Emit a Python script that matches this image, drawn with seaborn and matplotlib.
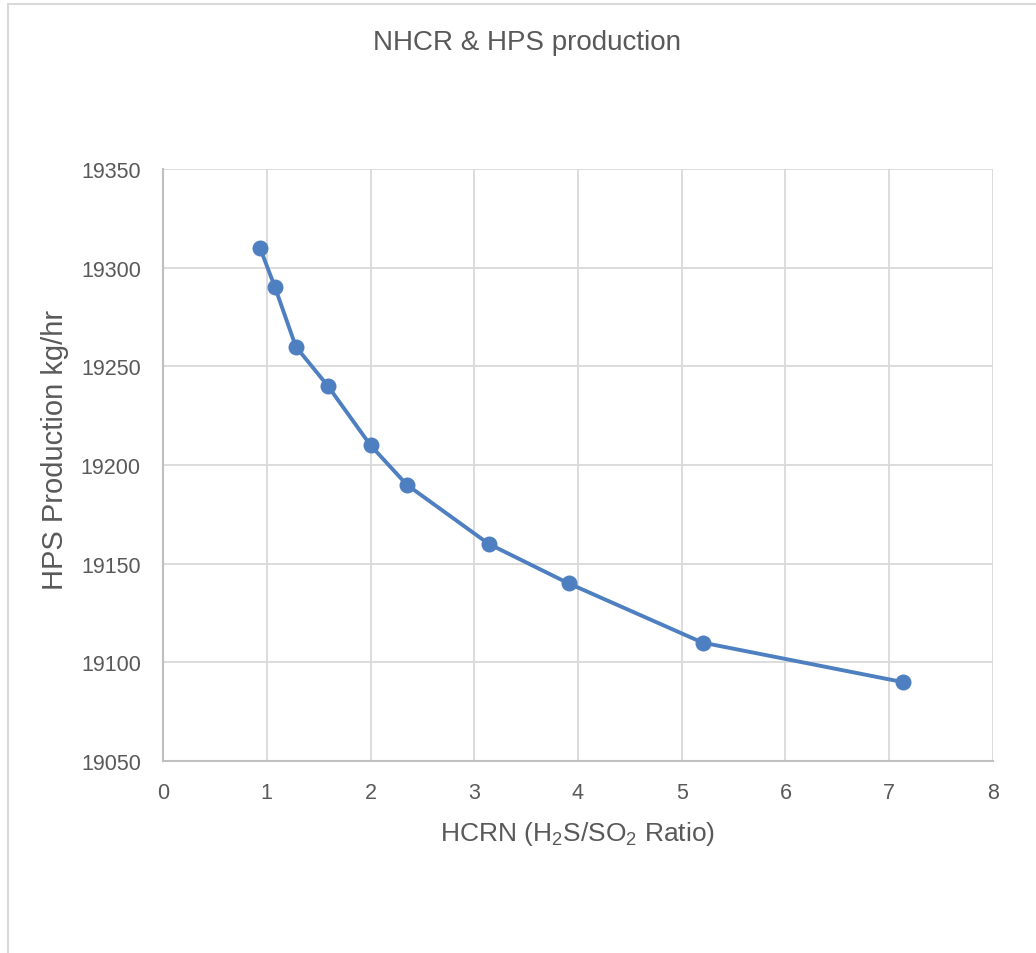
import matplotlib
matplotlib.use("Agg")
import matplotlib.pyplot as plt
from matplotlib.lines import Line2D
import seaborn as sns
import pandas as pd

# values
hcrn_ratio = [0.935, 1.08, 1.28, 1.59, 2.0, 2.35, 3.14, 3.91, 5.2, 7.13]
hps_production = [19310, 19290, 19260, 19240, 19210, 19190, 19160, 19140, 19110, 19090]
x_ticks = [0, 1, 2, 3, 4, 5, 6, 7, 8]
y_ticks = [19050, 19100, 19150, 19200, 19250, 19300, 19350]

df = pd.DataFrame({"hcrn": hcrn_ratio, "hps": hps_production})

sns.set_style("whitegrid")
plt.rcParams["font.family"] = ["Liberation Sans", "DejaVu Sans"]
plt.rcParams["mathtext.fontset"] = "custom"
plt.rcParams["mathtext.rm"] = "Liberation Sans"

text_color = "#595959"
blue = "#4E7FC0"

fig = plt.figure(figsize=(10.36, 9.54), dpi=100)
ax = fig.add_axes([163 / 1036, 1 - 762 / 954, (993 - 163) / 1036, (762 - 170) / 954])

sns.lineplot(
    data=df,
    x="hcrn",
    y="hps",
    ax=ax,
    color=blue,
    linewidth=2.8,
    marker="o",
    markersize=11.5,
    markeredgewidth=0,
    markerfacecolor=blue,
)

ax.set_xlim(0, 8)
ax.set_ylim(19050, 19350)
ax.set_xticks(x_ticks)
ax.set_yticks(y_ticks)
ax.grid(True, color="#D9D9D9", linewidth=1.3)
ax.tick_params(length=0, labelsize=15.5, colors=text_color)
ax.tick_params(axis="x", pad=15)
ax.tick_params(axis="y", pad=16)

for side in ["top", "right"]:
    ax.spines[side].set_visible(False)
for side in ["left", "bottom"]:
    ax.spines[side].set_color("#BFBFBF")
    ax.spines[side].set_linewidth(1.5)

ax.set_xlabel(r"HCRN (H$_\mathregular{2}$S/SO$_\mathregular{2}$ Ratio)",
              fontsize=19, color=text_color, labelpad=12)
ax.set_ylabel("HPS Production kg/hr", fontsize=21, color=text_color,
              va="center")
ax.yaxis.set_label_coords(-0.130, 0.527)

fig.text(527 / 1036, 1 - 43 / 954, "NHCR & HPS production",
         fontsize=20, color=text_color, ha="center", va="center")

# outer chart frame (left and top edges visible)
fig.add_artist(Line2D([8 / 1036, 8 / 1036], [0, 1 - 5 / 954],
                      transform=fig.transFigure, color="#D9D9D9", linewidth=1.5))
fig.add_artist(Line2D([8 / 1036, 1], [1 - 5 / 954, 1 - 5 / 954],
                      transform=fig.transFigure, color="#D9D9D9", linewidth=1.5))

fig.savefig("out.png", dpi=100)
